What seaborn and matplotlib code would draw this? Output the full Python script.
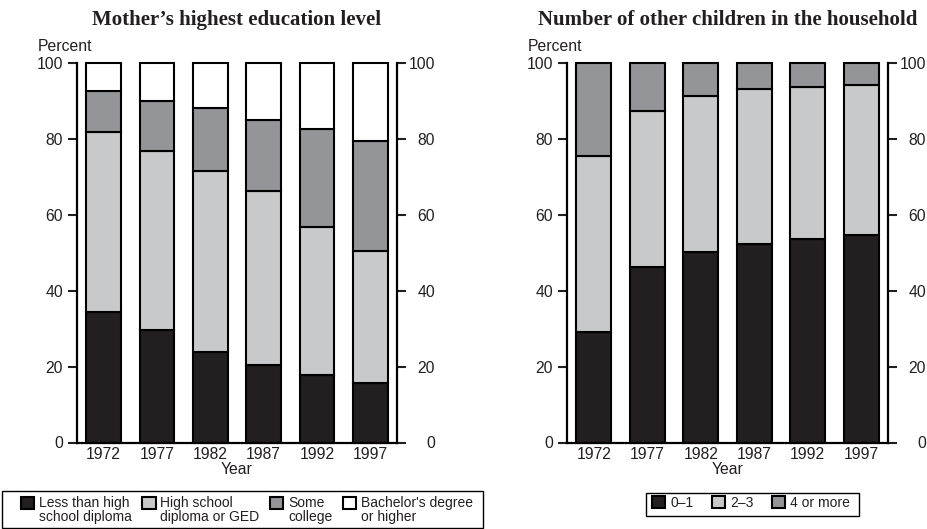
import numpy as np
import pandas as pd
import matplotlib
matplotlib.use("Agg")
import matplotlib.pyplot as plt
import seaborn as sns
from matplotlib.patches import Patch, Rectangle
from matplotlib.legend_handler import HandlerPatch

years = ["1972", "1977", "1982", "1987", "1992", "1997"]

# mother's highest education level, percent of births per year
less_than_hs = [34.3, 29.5, 23.8, 20.4, 17.9, 15.7]
hs_diploma = [47.5, 47.3, 47.8, 45.9, 38.8, 34.6]
some_college = [10.8, 13.2, 16.5, 18.6, 25.9, 29.2]
bachelors = [7.4, 10.0, 11.9, 15.1, 17.4, 20.5]
edu_labels = ["Less than high\nschool diploma", "High school\ndiploma or GED",
              "Some\ncollege", "Bachelor's degree\nor higher"]

# number of other children in the household
kids_0_1 = [29.0, 46.3, 50.2, 52.3, 53.5, 54.6]
kids_2_3 = [46.5, 41.0, 41.0, 40.9, 40.0, 39.5]
kids_4_plus = [24.5, 12.7, 8.8, 6.8, 6.5, 5.9]
kids_labels = ["0\u20131", "2\u20133", "4 or more"]

DARK = "#231f20"
LIGHT = "#c8c9cb"
MID = "#939598"
WHITE = "#ffffff"

sns.set_style("ticks")
plt.rcParams["font.family"] = ["Liberation Sans", "DejaVu Sans"]
plt.rcParams["font.size"] = 11.3
plt.rcParams["text.color"] = DARK
plt.rcParams["xtick.color"] = DARK
plt.rcParams["ytick.color"] = DARK
plt.rcParams["axes.labelcolor"] = DARK


def stacked_bars(ax, series, colors):
    '''
    Draw one stacked bar per year, each series sitting on top of the ones before it
    '''
    bottom = np.zeros(len(years))
    for values, color in zip(series, colors):
        df = pd.DataFrame({"Year": years, "Percent": values})
        sns.barplot(data=df, x="Year", y="Percent", bottom=bottom.copy(), color=color,
                    saturation=1, width=0.65, edgecolor="black", linewidth=1.5,
                    errorbar=None, clip_on=False, ax=ax)
        bottom += np.array(values)


def style_panel(ax, title):
    ax.set_ylim(0, 100)
    ax.set_xlim(-0.5, 5.5)
    ax.set_yticks(range(0, 101, 20))
    ax.set_ylabel("")
    ax.set_xlabel("Year", labelpad=0)
    ax.set_title(title, fontfamily="Liberation Serif", fontweight="bold", fontsize=15, pad=27)
    ax.tick_params(axis="y", length=6.5, width=1.5, pad=3.5)
    ax.tick_params(axis="x", length=0, pad=3)
    for side in ["left", "bottom"]:
        ax.spines[side].set_linewidth(1.6)
        ax.spines[side].set_color("black")
    ax.spines["top"].set_visible(False)
    ax.spines["right"].set_visible(False)
    ax.annotate("Percent", xy=(0, 1), xycoords="axes fraction", xytext=(-39, 12),
                textcoords="offset pixels", ha="left", va="baseline")

    # mirrored scale on the right side
    ax2 = ax.twinx()
    ax2.set_ylim(0, 100)
    ax2.set_yticks(range(0, 101, 20))
    ax2.set_yticklabels([str(v) for v in range(0, 101, 20)], ha="right")
    ax2.tick_params(axis="y", length=6.5, width=1.5, pad=21)
    for side in ["top", "left", "bottom"]:
        ax2.spines[side].set_visible(False)
    ax2.spines["right"].set_linewidth(1.6)
    ax2.spines["right"].set_color("black")


def top_square(legend, orig_handle, xdescent, ydescent, width, height, fontsize):
    # put the key square next to the first line of a two line label
    return Rectangle((-xdescent, -ydescent + 0.55 * fontsize), width, height)


def key_box(x0, y0, x1, y1):
    # plain box around a key, given in pixels from the top-left corner
    fig.patches.append(Rectangle((x0 / 927, (529 - y1) / 529), (x1 - x0) / 927, (y1 - y0) / 529,
                                 transform=fig.transFigure, facecolor="none",
                                 edgecolor="black", linewidth=1.0))


fig = plt.figure(figsize=(9.27, 5.29), dpi=100)
ax_edu = fig.add_axes([77 / 927, 86.5 / 529, 320 / 927, 379.8 / 529])
ax_kid = fig.add_axes([567 / 927, 86.5 / 529, 321 / 927, 379.8 / 529])

edu_colors = [DARK, LIGHT, MID, WHITE]
stacked_bars(ax_edu, [less_than_hs, hs_diploma, some_college, bachelors], edu_colors)
style_panel(ax_edu, "Mother\u2019s highest education level")

kid_colors = [DARK, LIGHT, MID]
stacked_bars(ax_kid, [kids_0_1, kids_2_3, kids_4_plus], kid_colors)
style_panel(ax_kid, "Number of other children in the household")

leg_kws = dict(frameon=False, borderpad=0, borderaxespad=0,
               handlelength=0.95, handleheight=0.95, handletextpad=0.35, fontsize=10)

edu_handles = [Patch(facecolor=c, edgecolor="black", linewidth=1.5) for c in edu_colors]
leg1 = fig.legend(edu_handles, edu_labels, ncol=4, loc="upper left",
                  bbox_to_anchor=(21 / 927, 33 / 529), columnspacing=0.75,
                  labelspacing=0.2,
                  handler_map={Patch: HandlerPatch(patch_func=top_square)}, **leg_kws)
for t in leg1.get_texts():
    t.set_linespacing(1.0)
key_box(2, 491, 483, 528)

kid_handles = [Patch(facecolor=c, edgecolor="black", linewidth=1.5) for c in kid_colors]
leg2 = fig.legend(kid_handles, kids_labels, ncol=3, loc="upper left",
                  bbox_to_anchor=(652 / 927, 33 / 529), columnspacing=1.35, **leg_kws)
key_box(646, 493, 859, 516)

fig.savefig("out.png", dpi=100)
